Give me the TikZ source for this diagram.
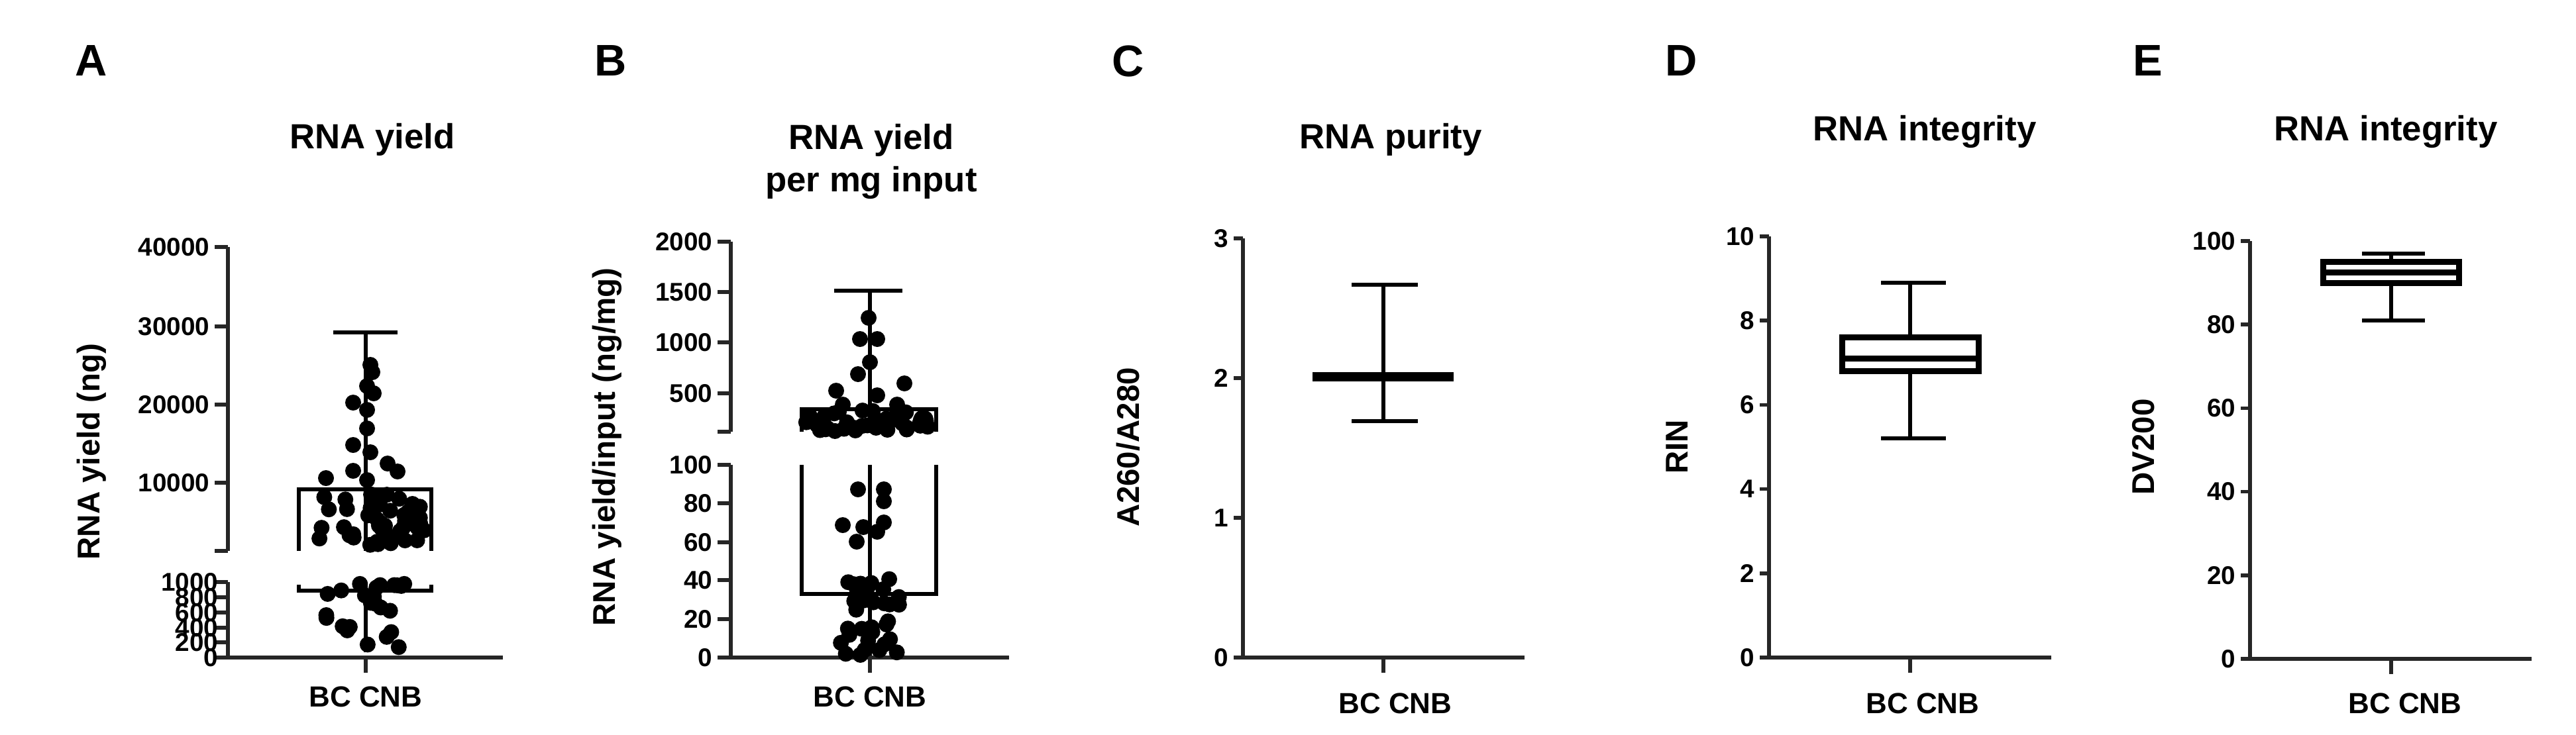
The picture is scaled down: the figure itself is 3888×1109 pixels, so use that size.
\documentclass[tikz,border=0pt]{standalone}
\usepackage{fontspec}
\setmainfont{Liberation Sans}
\begin{document}
\begin{tikzpicture}[x=0.01cm,y=-0.01cm,
  ax/.style={line width=0.055cm,color=black!85},
  bx/.style={line width=0.06cm,color=black},
  tk/.style={anchor=east,font=\fontsize{11}{11}\selectfont\bfseries,inner sep=2pt},
  ttl/.style={font=\fontsize{15}{18}\selectfont\bfseries,align=center},
  let/.style={font=\fontsize{19}{19}\selectfont\bfseries},
  ylab/.style={font=\fontsize{13.5}{14}\selectfont\bfseries,rotate=90},
  xlab/.style={font=\fontsize{12.5}{13}\selectfont\bfseries},
  dot/.style={fill=black}]
\useasboundingbox (0,0) rectangle (3888,1109);
\fill[white] (0,0) rectangle (3888,1109);
\pgfmathsetseed{11}
% ================= Panel A
\node[let] (la) at (138,92) {A};
\node[ttl] (ta) at (562,211) {RNA yield};
\node[ylab] (ya) at (138,682) {RNA yield (ng)};
\draw[ax] (344,373) -- (344,832);
\draw[ax] (344,879) -- (344,993) -- (759,993);
\draw[ax] (552,993) -- (552,1016);
\foreach \y/\t in {373/40000,493/30000,611/20000,729/10000}{
  \draw[ax] (324,\y) -- (344,\y); \node[tk] at (324,\y) {\t};}
\draw[ax] (324,832) -- (344,832);
\foreach \y/\t in {879/1000,902/800,925/600,948/400,970/200,993/0}{
  \draw[ax] (324,\y) -- (344,\y); \node[tk,inner sep=0pt] at (330,\y) {\t};}
\node[xlab] (xa) at (552,1052) {BC CNB};
\draw[bx] (451,832) -- (451,739) -- (651,739) -- (651,832);
\draw[bx] (451,883) -- (451,892) -- (651,892) -- (651,883);
\draw[bx] (552,502) -- (552,832); \draw[bx] (503,502) -- (600,502);
\draw[bx] (552,879) -- (552,985);
\foreach \x/\y in {559/551,562/562,554/583,564/594,533/608,554/619,554/647,533/672,559/683,533/711,585/700,492/722,554/725,600/712}
  \fill[dot] (\x,\y) circle (12);
\foreach \i in {1,...,45}{
  \pgfmathsetmacro\xx{552+90*rand}\pgfmathsetmacro\yy{785+45*rand}
  \fill[dot] (\xx,\yy) circle (12);}
\foreach \i in {1,...,24}{
  \pgfmathsetmacro\xx{552+60*rand}\pgfmathsetmacro\yy{932+52*rand}
  \fill[dot] (\xx,\yy) circle (12);}
% ================= Panel B
\node[let] (lb) at (922,92) {B};
\node[ttl] (tb) at (1315,244) {RNA yield\\per mg input};
\node[ylab] (yb) at (916,675) {RNA yield/input (ng/mg)};
\draw[ax] (1103,365) -- (1103,652);
\draw[ax] (1103,702) -- (1103,993) -- (1523,993);
\draw[ax] (1313,993) -- (1313,1016);
\foreach \y/\t in {365/2000,441/1500,517/1000,594/500}{
  \draw[ax] (1083,\y) -- (1103,\y); \node[tk] at (1083,\y) {\t};}
\draw[ax] (1083,652) -- (1103,652);
\foreach \y/\t in {702/100,760/80,819/60,876/40,935/20,993/0}{
  \draw[ax] (1083,\y) -- (1103,\y); \node[tk] at (1083,\y) {\t};}
\node[xlab] (xb) at (1313,1052) {BC CNB};
\draw[bx] (1210,652) -- (1210,618) -- (1413,618) -- (1413,652);
\draw[bx] (1210,702) -- (1210,897) -- (1413,897) -- (1413,702);
\draw[bx] (1313,439) -- (1313,652); \draw[bx] (1259,439) -- (1362,439);
\draw[bx] (1313,702) -- (1313,990);
\foreach \x/\y in {1311/480,1298/512,1324/512,1313/547,1295/565,1262/590,1365/579,1324/597,1272/611,1354/611,1295/739,1334/739,1334/757,1272/793,1303/796,1334/789,1293/818,1324/803}
  \fill[dot] (\x,\y) circle (12);
\foreach \i in {1,...,40}{
  \pgfmathsetmacro\xx{1311+95*rand}\pgfmathsetmacro\yy{636+16*rand}
  \fill[dot] (\xx,\yy) circle (12);}
\foreach \i in {1,...,34}{
  \pgfmathsetmacro\xx{1313+45*rand}\pgfmathsetmacro\yy{932+58*rand}
  \fill[dot] (\xx,\yy) circle (12);}
% ================= Panel C
\node[let] (lc) at (1703,92) {C};
\node[ttl] (tc) at (2099,211) {RNA purity};
\node[ylab] (yc) at (1703,675) {A260/A280};
\draw[ax] (1876,360) -- (1876,993) -- (2301,993);
\draw[ax] (2088,993) -- (2088,1016);
\foreach \y/\t in {360/3,571/2,782/1,993/0}{
  \draw[ax] (1862,\y) -- (1876,\y); \node[tk] at (1862,\y) {\t};}
\node[xlab] (xc) at (2106,1062) {BC CNB};
\draw[bx] (2088,430) -- (2088,636);
\draw[bx] (2040,430) -- (2140,430); \draw[bx] (2040,636) -- (2140,636);
\draw[line width=0.14cm] (1981,569) -- (2194,569);
% ================= Panel D
\node[let] (ld) at (2538,92) {D};
\node[ttl] (td) at (2905,199) {RNA integrity};
\node[ylab] (yd) at (2531,675) {RIN};
\draw[ax] (2670,357) -- (2670,993) -- (3096,993);
\draw[ax] (2883,993) -- (2883,1016);
\foreach \v in {0,2,4,6,8,10}{
  \pgfmathsetmacro\y{993-63.6*\v}
  \draw[ax] (2656,\y) -- (2670,\y); \node[tk] at (2656,\y) {\v};}
\node[xlab] (xd) at (2902,1062) {BC CNB};
\draw[bx] (2883,{993-63.6*8.9}) -- (2883,{993-63.6*7.6});
\draw[bx] (2883,{993-63.6*6.8}) -- (2883,{993-63.6*5.2});
\draw[bx] (2839,{993-63.6*8.9}) -- (2937,{993-63.6*8.9});
\draw[bx] (2839,{993-63.6*5.2}) -- (2937,{993-63.6*5.2});
\draw[line width=0.09cm] (2780,{993-63.6*7.6}) rectangle (2986,{993-63.6*6.8});
\draw[line width=0.09cm] (2780,{993-63.6*7.1}) -- (2986,{993-63.6*7.1});
% ================= Panel E
\node[let] (le) at (3242,92) {E};
\node[ttl] (te) at (3601,199) {RNA integrity};
\node[ylab] (ye) at (3235,675) {DV200};
\draw[ax] (3396,364) -- (3396,995) -- (3821,995);
\draw[ax] (3609,995) -- (3609,1018);
\foreach \v in {0,20,40,60,80,100}{
  \pgfmathsetmacro\y{995-6.31*\v}
  \draw[ax] (3382,\y) -- (3396,\y); \node[tk] at (3382,\y) {\v};}
\node[xlab] (xe) at (3630,1062) {BC CNB};
\draw[bx] (3609,{995-6.31*97}) -- (3609,{995-6.31*95});
\draw[bx] (3609,{995-6.31*90}) -- (3609,{995-6.31*81});
\draw[bx] (3565,{995-6.31*97}) -- (3660,{995-6.31*97});
\draw[bx] (3565,{995-6.31*81}) -- (3660,{995-6.31*81});
\draw[line width=0.09cm] (3506,{995-6.31*95}) rectangle (3711,{995-6.31*90});
\draw[line width=0.09cm] (3506,{995-6.31*92.5}) -- (3711,{995-6.31*92.5});
\end{tikzpicture}
\end{document}
